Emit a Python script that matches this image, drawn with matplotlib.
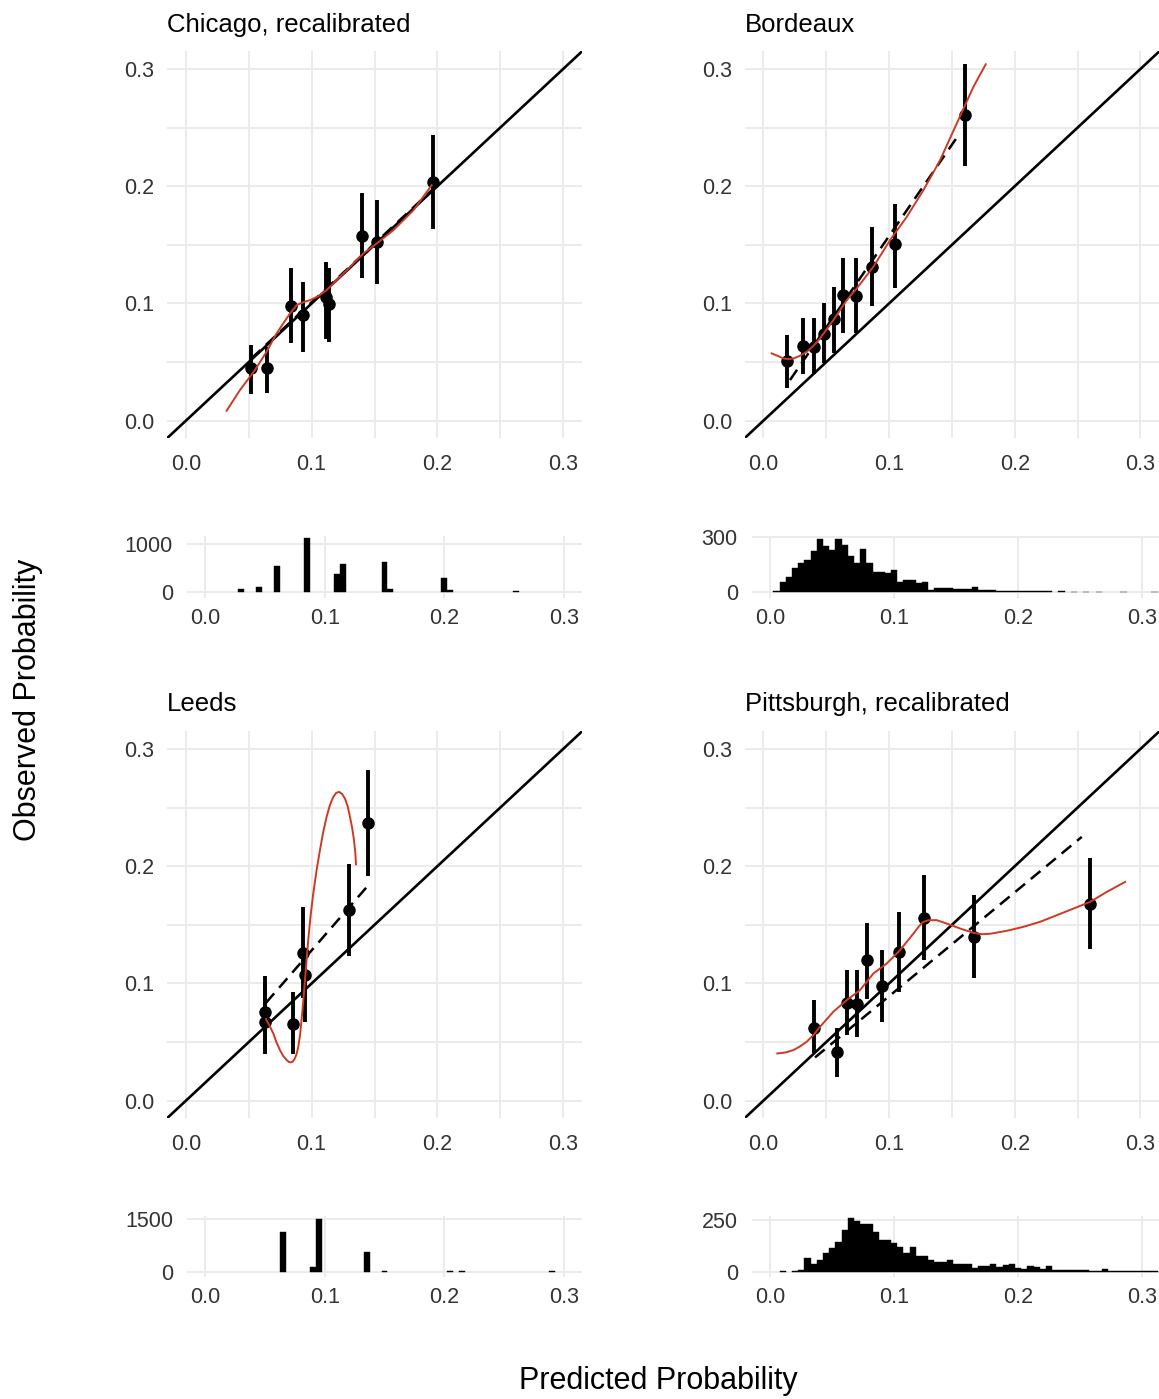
import numpy as np
import matplotlib.pyplot as plt

plt.rcParams['font.family'] = ['Liberation Sans', 'DejaVu Sans']

W, H = 1159, 1399
RED = '#cc3a24'
GRID = '#ebebeb'
TICKC = '#333333'

# ---------------- Chicago, recalibrated ----------------
chi_pred = [0.0515, 0.0647, 0.0836, 0.0928, 0.1115, 0.1135, 0.1403, 0.1517, 0.1968]
chi_obs = [0.0446, 0.0452, 0.0980, 0.0898, 0.1055, 0.0995, 0.1577, 0.1526, 0.2037]
chi_lo = [0.0224, 0.0240, 0.0660, 0.0590, 0.0700, 0.0670, 0.1213, 0.1165, 0.1634]
chi_hi = [0.0645, 0.0630, 0.1300, 0.1180, 0.1350, 0.1300, 0.1938, 0.1880, 0.2435]
chi_smooth_x = [0.0324, 0.0430, 0.0549, 0.0642, 0.0721, 0.0828, 0.0881, 0.0930, 0.0987,
                0.1050, 0.1119, 0.1279, 0.1411, 0.1517, 0.1650, 0.1809, 0.1955]
chi_smooth_y = [0.0085, 0.0261, 0.0432, 0.0588, 0.0744, 0.0915, 0.0986, 0.1010, 0.1028,
                0.1060, 0.1114, 0.1284, 0.1426, 0.1511, 0.1625, 0.1795, 0.2009]
chi_recal_x = [0.052, 0.197]
chi_recal_y = [0.053, 0.198]
chi_hist_x = [0.030, 0.045, 0.060, 0.085, 0.110, 0.115, 0.150, 0.155, 0.200, 0.205, 0.260]
chi_hist_n = [55, 95, 540, 1125, 380, 580, 630, 60, 300, 45, 20]

# ---------------- Bordeaux ----------------
bor_pred = [0.0186, 0.0318, 0.0403, 0.0483, 0.0565, 0.0637, 0.0735, 0.0862, 0.1048, 0.1605]
bor_obs = [0.0509, 0.0636, 0.0630, 0.0739, 0.0864, 0.1071, 0.1063, 0.1313, 0.1506, 0.2605]
bor_lo = [0.0276, 0.0395, 0.0400, 0.0489, 0.0574, 0.0744, 0.0744, 0.0980, 0.1128, 0.2170]
bor_hi = [0.0730, 0.0880, 0.0880, 0.1000, 0.1142, 0.1384, 0.1384, 0.1653, 0.1852, 0.3040]
bor_smooth_x = [0.0066, 0.0110, 0.0159, 0.0200, 0.0239, 0.0290, 0.0345, 0.0400, 0.0451,
                0.0557, 0.0663, 0.0743, 0.0875, 0.1008, 0.1141, 0.1273, 0.1406, 0.1538,
                0.1671, 0.1769]
bor_smooth_y = [0.0574, 0.0555, 0.0531, 0.0525, 0.0531, 0.0553, 0.0588, 0.0640, 0.0702,
                0.0858, 0.1028, 0.1128, 0.1313, 0.1540, 0.1739, 0.1966, 0.2222, 0.2534,
                0.2847, 0.3040]
bor_recal_x = [0.0212, 0.1552]
bor_recal_y = [0.0347, 0.2435]
bor_hist_x = [0.005, 0.010, 0.015, 0.020, 0.025, 0.030, 0.035, 0.040, 0.045, 0.050,
              0.055, 0.060, 0.065, 0.070, 0.075, 0.080, 0.085, 0.090, 0.095, 0.100,
              0.105, 0.110, 0.115, 0.120, 0.125, 0.130, 0.135, 0.140, 0.145, 0.150,
              0.155, 0.160, 0.165, 0.170, 0.175, 0.180, 0.185, 0.190, 0.195, 0.200,
              0.205, 0.210, 0.215, 0.220, 0.225, 0.235, 0.245, 0.255, 0.265, 0.285,
              0.310]
bor_hist_n = [9, 58, 82, 135, 158, 176, 227, 291, 253, 231,
              291, 258, 200, 158, 236, 158, 113, 113, 104, 122,
              58, 67, 67, 53, 58, 11, 25, 25, 25, 18,
              18, 18, 27, 15, 15, 15, 7, 5, 5, 5,
              5, 5, 5, 5, 5, 8, 4, 4, 4, 4,
              4]

# ---------------- Leeds ----------------
lee_pred = [0.0629, 0.0629, 0.0854, 0.0935, 0.0950, 0.1297, 0.1446]
lee_obs = [0.0758, 0.0673, 0.0653, 0.1264, 0.1071, 0.1625, 0.2369]
lee_lo = [0.0395, 0.0420, 0.0395, 0.0880, 0.0673, 0.1236, 0.1918]
lee_hi = [0.1063, 0.1000, 0.0923, 0.1648, 0.1300, 0.2017, 0.2824]
lee_smooth_x = [0.0637, 0.0665, 0.0695, 0.0720, 0.0748, 0.0775, 0.0801, 0.0820, 0.0833,
                0.0850, 0.0867, 0.0882, 0.0894, 0.0908, 0.0920, 0.0934, 0.0947, 0.0960,
                0.0973, 0.0992, 0.1013, 0.1040, 0.1066, 0.1092, 0.1119, 0.1145, 0.1172,
                0.1195, 0.1218, 0.1242, 0.1265, 0.1287, 0.1305, 0.1322, 0.1337, 0.1347,
                0.1353]
lee_smooth_y = [0.0696, 0.0640, 0.0574, 0.0500, 0.0432, 0.0380, 0.0347, 0.0330, 0.0327,
                0.0334, 0.0361, 0.0404, 0.0460, 0.0560, 0.0688, 0.0855, 0.1028, 0.1200,
                0.1369, 0.1580, 0.1767, 0.1970, 0.2136, 0.2290, 0.2420, 0.2520, 0.2591,
                0.2625, 0.2634, 0.2617, 0.2577, 0.2510, 0.2420, 0.2330, 0.2222, 0.2120,
                0.2017]
lee_recal_x = [0.0637, 0.1451]
lee_recal_y = [0.0835, 0.1838]
lee_hist_x = [0.065, 0.090, 0.095, 0.135, 0.150, 0.205, 0.215, 0.290]
lee_hist_n = [1130, 160, 1510, 566, 40, 30, 30, 25]

# ---------------- Pittsburgh, recalibrated ----------------
pit_pred = [0.0403, 0.0584, 0.0663, 0.0748, 0.0828, 0.0942, 0.1082, 0.1281, 0.1679, 0.2600]
pit_obs = [0.0616, 0.0418, 0.0835, 0.0824, 0.1199, 0.0980, 0.1270, 0.1560, 0.1398, 0.1682]
pit_lo = [0.0403, 0.0205, 0.0560, 0.0545, 0.0864, 0.0673, 0.0929, 0.1199, 0.1043, 0.1290]
pit_hi = [0.0858, 0.0616, 0.1114, 0.1114, 0.1517, 0.1284, 0.1611, 0.1923, 0.1753, 0.2071]
pit_smooth_x = [0.0111, 0.0180, 0.0239, 0.0290, 0.0345, 0.0400, 0.0451, 0.0557, 0.0663,
                0.0769, 0.0875, 0.0981, 0.1088, 0.1194, 0.1240, 0.1273, 0.1320, 0.1379,
                0.1459, 0.1565, 0.1671, 0.1740, 0.1804, 0.1936, 0.2069, 0.2202, 0.2334,
                0.2467, 0.2600, 0.2732, 0.2878]
pit_smooth_y = [0.0403, 0.0412, 0.0432, 0.0462, 0.0503, 0.0562, 0.0631, 0.0759, 0.0858,
                0.0943, 0.1085, 0.1170, 0.1284, 0.1426, 0.1490, 0.1526, 0.1540, 0.1540,
                0.1511, 0.1469, 0.1432, 0.1420, 0.1424, 0.1449, 0.1483, 0.1526, 0.1582,
                0.1639, 0.1696, 0.1781, 0.1866]
pit_recal_x = [0.0411, 0.2533]
pit_recal_y = [0.0369, 0.2250]
pit_hist_x = [0.010, 0.020, 0.025, 0.030, 0.035, 0.040, 0.045, 0.050, 0.055, 0.060,
              0.065, 0.070, 0.075, 0.080, 0.085, 0.090, 0.095, 0.100, 0.105, 0.110,
              0.115, 0.120, 0.125, 0.130, 0.135, 0.140, 0.145, 0.150, 0.155, 0.160,
              0.165, 0.170, 0.175, 0.180, 0.185, 0.190, 0.195, 0.200, 0.205, 0.210,
              0.215, 0.220, 0.225, 0.230, 0.235, 0.240, 0.245, 0.250, 0.255, 0.260,
              0.265, 0.270, 0.275, 0.280, 0.285, 0.290, 0.295, 0.300, 0.305, 0.310]
pit_hist_n = [8, 5, 11, 70, 38, 59, 91, 118, 143, 202,
              258, 247, 231, 231, 191, 155, 155, 139, 123, 91,
              123, 80, 80, 59, 51, 51, 59, 38, 38, 38,
              22, 32, 32, 38, 27, 35, 40, 22, 16, 30,
              27, 16, 30, 11, 11, 11, 11, 11, 11, 6,
              6, 16, 5, 5, 5, 5, 5, 5, 5, 5]

ticks = [0.0, 0.1, 0.2, 0.3]
minor = [0.05, 0.15, 0.25]
lims = (-0.015, 0.315)


def px_axes(fig, left, top, right, bottom):
    return fig.add_axes([left / W, 1 - bottom / H, (right - left) / W, (bottom - top) / H])


def clean(ax):
    for s in ax.spines.values():
        s.set_visible(False)
    ax.set_axisbelow(True)


def calib(ax, pred, obs, lo, hi, sx, sy, rx, ry):
    clean(ax)
    ax.set_xlim(lims)
    ax.set_ylim(lims)
    ax.set_xticks(ticks)
    ax.set_yticks(ticks)
    ax.set_xticks(minor, minor=True)
    ax.set_yticks(minor, minor=True)
    ax.set_xticklabels(['0.0', '0.1', '0.2', '0.3'])
    ax.set_yticklabels(['0.0', '0.1', '0.2', '0.3'])
    ax.grid(True, which='both', color=GRID, lw=1.4)
    ax.tick_params(which='both', length=0, labelsize=15.5, labelcolor=TICKC)
    ax.tick_params(axis='x', pad=11)
    ax.tick_params(axis='y', pad=9)
    ax.plot(rx, ry, color='black', lw=1.8, ls=(0, (5, 3)), zorder=2)
    ax.axline((0, 0), slope=1, color='black', lw=1.9, zorder=3)
    ax.vlines(pred, lo, hi, color='black', lw=2.8, zorder=4)
    ax.plot(pred, obs, 'o', color='black', ms=8, zorder=5)
    ax.plot(sx, sy, color=RED, lw=1.4, zorder=6, solid_joinstyle='round')


def hist(ax, hx, hn, ytick, ylim):
    clean(ax)
    ax.bar(hx, hn, width=0.005, color='black', edgecolor='black', lw=0.3, zorder=3)
    ax.set_xlim(lims)
    ax.set_ylim(ylim)
    ax.set_xticks(ticks)
    ax.set_xticklabels(['0.0', '0.1', '0.2', '0.3'])
    ax.set_yticks([0, ytick])
    ax.set_yticklabels(['0', str(ytick)])
    ax.grid(True, color=GRID, lw=1.4)
    ax.tick_params(length=0, labelsize=15.5, labelcolor=TICKC)
    ax.tick_params(axis='x', pad=7)
    ax.tick_params(axis='y', pad=10)


fig = plt.figure(figsize=(W / 100, H / 100), dpi=100)

ax = px_axes(fig, 167, 51.4, 582, 438.3)
calib(ax, chi_pred, chi_obs, chi_lo, chi_hi, chi_smooth_x, chi_smooth_y, chi_recal_x, chi_recal_y)
ax = px_axes(fig, 744.5, 51.4, 1159.3, 438.3)
calib(ax, bor_pred, bor_obs, bor_lo, bor_hi, bor_smooth_x, bor_smooth_y, bor_recal_x, bor_recal_y)
ax = px_axes(fig, 167, 731.4, 582, 1118.3)
calib(ax, lee_pred, lee_obs, lee_lo, lee_hi, lee_smooth_x, lee_smooth_y, lee_recal_x, lee_recal_y)
ax = px_axes(fig, 744.5, 731.4, 1159.3, 1118.3)
calib(ax, pit_pred, pit_obs, pit_lo, pit_hi, pit_smooth_x, pit_smooth_y, pit_recal_x, pit_recal_y)

ax = px_axes(fig, 187, 536, 582, 598)
hist(ax, chi_hist_x, chi_hist_n, 1000, (-125, 1167))
ax = px_axes(fig, 751.7, 536, 1160.6, 598)
hist(ax, bor_hist_x, bor_hist_n, 300, (-31, 307))
ax = px_axes(fig, 187, 1216, 582, 1277)
hist(ax, lee_hist_x, lee_hist_n, 1500, (-133, 1594))
ax = px_axes(fig, 751.7, 1216, 1160.6, 1277)
hist(ax, pit_hist_x, pit_hist_n, 250, (-22.5, 269))

titles = [('Chicago, recalibrated', 167, 32), ('Bordeaux', 745, 32),
          ('Leeds', 167, 711), ('Pittsburgh, recalibrated', 745, 711)]
for t, x, y in titles:
    fig.text(x / W, 1 - y / H, t, ha='left', va='baseline', fontsize=18.5, color='black')

fig.text(658 / W, 1 - 1381 / H, 'Predicted Probability', ha='center', va='center', fontsize=22)
fig.text(28 / W, 1 - 700 / H, 'Observed Probability', ha='center', va='center',
         rotation=90, fontsize=22)

fig.savefig('out.png', dpi=100, facecolor='white')
